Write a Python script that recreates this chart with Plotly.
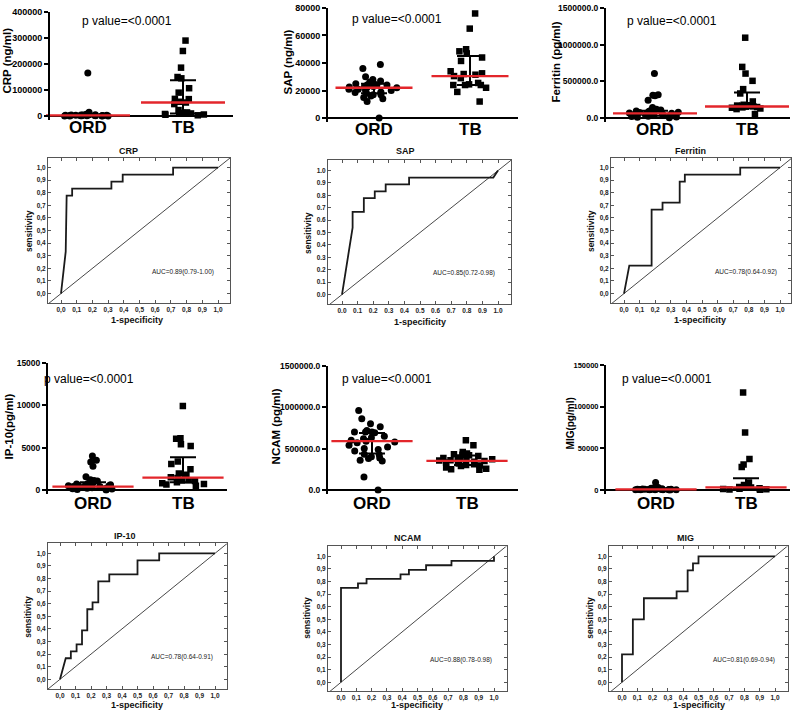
import plotly.graph_objects as go

W, H = 793, 714
FONT = "Arial, Liberation Sans, sans-serif"
RED = "#e3262b"


def fx(p):
    return p / W


def fy(p):
    return 1 - p / H


GROUPS = ["ORD", "TB"]

# ---------------- scatter data ----------------
crp_ord = [165000, 15000, 8000, 7000, 6000, 6000, 5000, 5000, 5000, 4000, 4000, 4000, 3000, 3000,
           3000, 2500, 2000, 2000, 2000, 1500, 1500, 1000, 1000, 800, 500, 500, 300, 100]
crp_tb = [290000, 250000, 186000, 150000, 145000, 107000, 90000, 66000, 65000, 55000, 52000,
          46000, 23000, 14000, 12000, 10000, 9000, 8000, 6000, 5000, 3000]
crp_median = [2500, 52000]
crp_q1 = [800, 10000]
crp_q3 = [5000, 138000]
crp_ticks = [0, 100000, 200000, 300000, 400000]
crp_ticktext = ["0", "100000", "200000", "300000", "400000"]

sap_ord = [39000, 36000, 30000, 28000, 27000, 26000, 25000, 25000, 24000, 24000, 24000, 23000,
           23000, 22500, 22000, 22000, 21000, 21000, 20000, 20000, 19000, 18500, 18000, 18000,
           17000, 17000, 16000, 15000, 14000, 12000, 0]
sap_tb = [76000, 65000, 50000, 48500, 47000, 44000, 41500, 34000, 32500, 32000, 31500, 30500,
          29000, 25500, 24500, 24000, 24000, 24000, 22000, 19000, 12000]
sap_median = [22000, 30500]
sap_q1 = [18000, 24000]
sap_q3 = [25000, 45000]
sap_ticks = [0, 20000, 40000, 60000, 80000]
sap_ticktext = ["0", "20000", "40000", "60000", "80000"]

fer_ord = [606000, 317000, 310000, 303000, 244000, 145000, 120000, 110000, 105000, 100000, 95000,
           90000, 80000, 75000, 70000, 65000, 60000, 55000, 50000, 45000, 40000, 35000, 30000,
           25000, 20000, 15000, 10000, 5000]
fer_tb = [1095000, 697000, 606000, 507000, 394000, 335000, 226000, 181000, 175000, 170000, 167000,
          160000, 155000, 150000, 145000, 140000, 130000, 122000, 54000]
fer_median = [63000, 157000]
fer_q1 = [30000, 135000]
fer_q3 = [100000, 348000]
fer_ticks = [0, 500000, 1000000, 1500000]
fer_ticktext = ["0.0", "500000.0", "1000000.0", "1500000.0"]

ip_ord = [4000, 3500, 3300, 2800, 1550, 1200, 1100, 1050, 800, 750, 700, 650, 600, 550, 500, 500,
          450, 400, 400, 350, 300, 250, 200, 200, 150, 100, 50, 0]
ip_tb = [9900, 6100, 6050, 5400, 5200, 3350, 3050, 2450, 1950, 1800, 1500, 1400, 1150, 1100, 1050,
         900, 800, 700, 650, 500]
ip_median = [390, 1450]
ip_q1 = [150, 900]
ip_q3 = [900, 3850]
ip_ticks = [0, 5000, 10000, 15000]
ip_ticktext = ["0", "5000", "10000", "15000"]

ncam_ord = [960000, 860000, 800000, 765000, 720000, 700000, 700000, 700000, 690000, 650000, 630000,
            620000, 600000, 590000, 580000, 570000, 540000, 520000, 500000, 490000, 470000, 430000,
            425000, 400000, 385000, 380000, 360000, 350000, 155000, 0]
ncam_tb = [600000, 540000, 460000, 440000, 430000, 425000, 420000, 410000, 400000, 390000, 385000,
           375000, 370000, 360000, 355000, 350000, 345000, 340000, 330000, 320000, 310000, 300000,
           295000, 290000, 270000, 255000, 250000, 245000]
ncam_median = [590000, 352000]
ncam_q1 = [440000, 300000]
ncam_q3 = [688000, 415000]
ncam_ticks = [0, 500000, 1000000, 1500000]
ncam_ticktext = ["0.0", "500000.0", "1000000.0", "1500000.0"]

mig_ord = [9000, 3000, 2500, 2000, 2000, 1800, 1500, 1500, 1200, 1200, 1000, 1000, 900, 800, 700,
           600, 500, 500, 400, 400, 300, 300, 200, 200, 100, 100, 50, 0]
mig_tb = [117000, 69000, 37000, 30500, 27500, 9000, 6000, 4000, 3500, 3000, 2800, 2500, 2000, 1500,
          1000, 800, 500, 300]
mig_median = [500, 3100]
mig_q1 = [200, 1000]
mig_q3 = [1200, 14000]
mig_ticks = [0, 50000, 100000, 150000]
mig_ticktext = ["0", "50000", "100000", "150000"]

p_text = "p value=<0.0001"

# ---------------- ROC data ----------------
crp_fpr = [0, 0.03, 0.036, 0.071, 0.071, 0.321, 0.321, 0.393, 0.393, 0.714, 0.714, 1.0]
crp_tpr = [0, 0.333, 0.778, 0.778, 0.833, 0.833, 0.889, 0.889, 0.944, 0.944, 1.0, 1.0]
crp_auc = "AUC=0.89(0.79-1.00)"

sap_fpr = [0, 0.068, 0.068, 0.14, 0.14, 0.21, 0.21, 0.28, 0.28, 0.43, 0.43, 0.955, 0.97, 1.0]
sap_tpr = [0, 0.54, 0.667, 0.667, 0.778, 0.778, 0.833, 0.833, 0.889, 0.889, 0.944, 0.944, 0.944, 1.0]
sap_auc = "AUC=0.85(0.72-0.98)"

fer_fpr = [0, 0.034, 0.177, 0.177, 0.247, 0.247, 0.357, 0.357, 0.39, 0.39, 0.745, 0.745, 1.0]
fer_tpr = [0, 0.222, 0.222, 0.667, 0.667, 0.722, 0.722, 0.889, 0.889, 0.944, 0.944, 1.0, 1.0]
fer_auc = "AUC=0.78(0.64-0.92)"

ip_fpr = [0, 0.037, 0.07, 0.07, 0.107, 0.107, 0.142, 0.142, 0.176, 0.176, 0.21, 0.21, 0.247, 0.247,
          0.318, 0.318, 0.5, 0.5, 0.64, 0.64, 1.0]
ip_tpr = [0, 0.167, 0.167, 0.222, 0.222, 0.278, 0.278, 0.389, 0.389, 0.556, 0.556, 0.611, 0.611,
          0.778, 0.778, 0.833, 0.833, 0.944, 0.944, 1.0, 1.0]
ip_auc = "AUC=0.78(0.64-0.91)"

ncam_fpr = [0, 0, 0.111, 0.111, 0.167, 0.167, 0.389, 0.389, 0.444, 0.444, 0.556, 0.556, 0.722,
            0.722, 1.0, 1.0]
ncam_tpr = [0, 0.75, 0.75, 0.786, 0.786, 0.821, 0.821, 0.857, 0.857, 0.893, 0.893, 0.929, 0.929,
            0.964, 0.964, 1.0]
ncam_auc = "AUC=0.88(0.78-0.98)"

mig_fpr = [0, 0, 0.071, 0.071, 0.143, 0.143, 0.357, 0.357, 0.429, 0.429, 0.464, 0.464, 0.5, 0.5, 1.0]
mig_tpr = [0, 0.222, 0.222, 0.5, 0.5, 0.667, 0.667, 0.722, 0.722, 0.889, 0.889, 0.944, 0.944, 1.0, 1.0]
mig_auc = "AUC=0.81(0.69-0.94)"

roc_ticks = [i / 10 for i in range(11)]
roc_ticktext_comma = ["0,0", "0,1", "0,2", "0,3", "0,4", "0,5", "0,6", "0,7", "0,8", "0,9", "1,0"]
roc_ticktext_dot = ["0.0", "0.1", "0.2", "0.3", "0.4", "0.5", "0.6", "0.7", "0.8", "0.9", "1.0"]

fig = go.Figure()
layout = {}
annotations = []


def ax_names(n):
    return ("x" if n == 1 else f"x{n}"), ("y" if n == 1 else f"y{n}")


def add_scatter_panel(n, ord_vals, tb_vals, med, q1, q3, ticks, ticktext, ylabel, g):
    xs, ys = ax_names(n)
    unit = g["tb"] - g["ord"]
    xr = [(g["left"] - g["ord"]) / unit, (g["right"] - g["ord"]) / unit]
    ppu = (g["zero"] - g["top"]) / ticks[-1]
    pad = 4
    yr = [-pad / ppu, ticks[-1]]
    for k, (vals, sym, size) in enumerate([(ord_vals, "circle", 7), (tb_vals, "square", 6.5)]):
        fig.add_trace(go.Box(
            x=[k] * len(vals), y=vals, xaxis=xs, yaxis=ys,
            boxpoints="all", jitter=1, pointpos=0, width=0.6,
            fillcolor="rgba(0,0,0,0)", line=dict(color="rgba(0,0,0,0)", width=0),
            marker=dict(symbol=sym, size=size, color="black"),
            showlegend=False, hoveron="points"))
    fig.add_trace(go.Scatter(
        x=[0, 1], y=med, xaxis=xs, yaxis=ys, mode="markers", showlegend=False,
        cliponaxis=False,
        marker=dict(symbol="line-ew", size=g["medw"], color=RED, line=dict(color=RED, width=2.3)),
        error_y=dict(type="data", symmetric=False,
                     array=[b - m for b, m in zip(q3, med)],
                     arrayminus=[m - a for m, a in zip(med, q1)],
                     color="black", thickness=2, width=13)))
    layout[f"xaxis{n}"] = dict(
        domain=[fx(g["left"]), fx(g["right"])], range=xr, anchor=ys,
        showticklabels=False, ticks="", showline=False, zeroline=False, showgrid=False)
    layout[f"yaxis{n}"] = dict(
        domain=[fy(g["zero"] + pad), fy(g["top"])], range=yr, anchor=xs,
        tickvals=ticks, ticktext=ticktext, ticks="outside", ticklen=4, tickwidth=1.5,
        tickcolor="black", showline=True, linewidth=2, linecolor="black",
        zeroline=True, zerolinecolor="black", zerolinewidth=2, showgrid=False,
        tickfont=dict(family=FONT, size=g["tsize"], color="black", weight="bold"))
    for k, name in enumerate(GROUPS):
        annotations.append(dict(
            text=name, xref=xs, yref="paper", x=k, y=fy(g["zero"] + g["gdy"]),
            showarrow=False, xanchor="center", yanchor="middle",
            font=dict(family=FONT, size=17, color="black", weight="bold")))
    annotations.append(dict(
        text=ylabel, xref="paper", yref="paper", x=fx(g["lx"]), y=fy(g["ly"]),
        textangle=-90, showarrow=False, xanchor="center", yanchor="middle",
        font=dict(family=FONT, size=g["lsize"], color="black", weight="bold")))
    annotations.append(dict(
        text=p_text, xref="paper", yref="paper", x=fx(g["px"]), y=fy(g["py"]),
        showarrow=False, xanchor="left", yanchor="middle",
        font=dict(family=FONT, size=12, color="black")))


def add_roc_panel(n, fpr, tpr, title, auc, ticktext, g):
    xs, ys = ax_names(n)
    ux = g["x1"] - g["x0"]
    uy = g["y0"] - g["y1"]
    xr = [(g["left"] - g["x0"]) / ux, (g["right"] - g["x0"]) / ux]
    yr = [(g["y0"] - g["bottom"]) / uy, (g["y0"] - g["top"]) / uy]
    fig.add_trace(go.Scatter(
        x=[-0.5, 1.5], y=[-0.5, 1.5], xaxis=xs, yaxis=ys, mode="lines", showlegend=False,
        line=dict(color="#333333", width=0.9)))
    fig.add_trace(go.Scatter(
        x=fpr, y=tpr, xaxis=xs, yaxis=ys, mode="lines", showlegend=False,
        line=dict(color="#1a1a1a", width=1.8)))
    common = dict(
        tickvals=roc_ticks, ticktext=ticktext, ticks="inside", ticklen=3, tickwidth=1,
        tickcolor="#555555", showline=True, linewidth=1, linecolor="#555555", mirror="ticks",
        zeroline=False, showgrid=False,
        tickfont=dict(family=FONT, size=6.5, color="#222222", weight="bold"))
    layout[f"xaxis{n}"] = dict(domain=[fx(g["left"]), fx(g["right"])], range=xr, anchor=ys, **common)
    layout[f"yaxis{n}"] = dict(domain=[fy(g["bottom"]), fy(g["top"])], range=yr, anchor=xs, **common)
    annotations.append(dict(
        text=title, xref="paper", yref="paper", x=fx(g["tx"]), y=fy(g["ty"]), showarrow=False,
        xanchor="center", yanchor="middle",
        font=dict(family=FONT, size=9, color="#111111", weight="bold")))
    annotations.append(dict(
        text="sensitivity", xref="paper", yref="paper", x=fx(g["sx"]), y=fy(g["sy"]),
        textangle=-90, showarrow=False, xanchor="center", yanchor="middle",
        font=dict(family=FONT, size=8.5, color="#111111", weight="bold")))
    annotations.append(dict(
        text="1-specificity", xref="paper", yref="paper", x=fx(g["cx"]), y=fy(g["cy"]),
        showarrow=False, xanchor="center", yanchor="middle",
        font=dict(family=FONT, size=9, color="#111111", weight="bold")))
    annotations.append(dict(
        text=auc, xref=xs, yref=ys, x=g["ax"], y=g["ay"], showarrow=False,
        xanchor="center", yanchor="middle",
        font=dict(family=FONT, size=6.5, color="#222222")))


add_scatter_panel(1, crp_ord, crp_tb, crp_median, crp_q1, crp_q3, crp_ticks, crp_ticktext,
                  "CRP (ng/ml)",
                  dict(left=50, right=233, top=7, zero=112, ord=88, tb=183, medw=60, tsize=9,
                       gdy=12, lx=7, ly=56, lsize=11.5, px=80, py=16))
add_scatter_panel(2, sap_ord, sap_tb, sap_median, sap_q1, sap_q3, sap_ticks, sap_ticktext,
                  "SAP (ng/ml)",
                  dict(left=328, right=518, top=3, zero=114, ord=374, tb=470, medw=55, tsize=9,
                       gdy=12, lx=288, ly=58, lsize=11.5, px=350, py=14))
add_scatter_panel(3, fer_ord, fer_tb, fer_median, fer_q1, fer_q3, fer_ticks, fer_ticktext,
                  "Ferritin (pg/ml)",
                  dict(left=606, right=790, top=3, zero=114, ord=655, tb=747, medw=60, tsize=8.5,
                       gdy=12, lx=556, ly=58, lsize=11.5, px=625, py=16))
add_scatter_panel(4, ip_ord, ip_tb, ip_median, ip_q1, ip_q3, ip_ticks, ip_ticktext,
                  "IP-10(pg/ml)",
                  dict(left=48, right=227, top=361, zero=489, ord=93, tb=183, medw=58, tsize=8.5,
                       gdy=14, lx=9, ly=425, lsize=11.5, px=42, py=377))
add_scatter_panel(5, ncam_ord, ncam_tb, ncam_median, ncam_q1, ncam_q3, ncam_ticks, ncam_ticktext,
                  "NCAM (pg/ml)",
                  dict(left=328, right=518, top=364, zero=489, ord=372, tb=467, medw=58, tsize=8.5,
                       gdy=14, lx=276, ly=425, lsize=11.5, px=340, py=377))
add_scatter_panel(6, mig_ord, mig_tb, mig_median, mig_q1, mig_q3, mig_ticks, mig_ticktext,
                  "MIG(pg/ml)",
                  dict(left=606, right=790, top=363, zero=489, ord=656, tb=746, medw=58, tsize=7.5,
                       gdy=14, lx=570, ly=422, lsize=10, px=620, py=377))

add_roc_panel(7, crp_fpr, crp_tpr, "CRP", crp_auc, roc_ticktext_comma,
              dict(left=48, right=230, top=154, bottom=301, x0=61, x1=218, y0=291, y1=164,
                   tx=128, ty=147, sx=29, sy=228, cx=137, cy=318, ax=0.78, ay=0.17))
add_roc_panel(8, sap_fpr, sap_tpr, "SAP", sap_auc, roc_ticktext_dot,
              dict(left=328, right=511, top=156, bottom=302, x0=342, x1=498, y0=292, y1=167,
                   tx=405, ty=147, sx=308, sy=230, cx=420, cy=320, ax=0.78, ay=0.17))
add_roc_panel(9, fer_fpr, fer_tpr, "Ferritin", fer_auc, roc_ticktext_comma,
              dict(left=611, right=791, top=154, bottom=301, x0=624, x1=780, y0=291, y1=164,
                   tx=690, ty=147, sx=591, sy=228, cx=700, cy=318, ax=0.78, ay=0.17))
add_roc_panel(10, ip_fpr, ip_tpr, "IP-10", ip_auc, roc_ticktext_comma,
              dict(left=48, right=227, top=543, bottom=690, x0=60, x1=215, y0=680, y1=553,
                   tx=125, ty=536, sx=28, sy=617, cx=137, cy=706, ax=0.785, ay=0.176))
add_roc_panel(11, ncam_fpr, ncam_tpr, "NCAM", ncam_auc, roc_ticktext_comma,
              dict(left=328, right=507, top=546, bottom=692, x0=341, x1=494, y0=683, y1=556,
                   tx=407, ty=538, sx=307, sy=618, cx=417, cy=706, ax=0.787, ay=0.18))
add_roc_panel(12, mig_fpr, mig_tpr, "MIG", mig_auc, roc_ticktext_comma,
              dict(left=609, right=788, top=546, bottom=692, x0=622, x1=775, y0=683, y1=556,
                   tx=685, ty=538, sx=590, sy=618, cx=699, cy=706, ax=0.80, ay=0.18))

layout["xaxis"] = layout.pop("xaxis1")
layout["yaxis"] = layout.pop("yaxis1")

fig.update_layout(
    width=W, height=H, margin=dict(l=0, r=0, t=0, b=0, pad=0),
    paper_bgcolor="white", plot_bgcolor="white", boxmode="overlay",
    font=dict(family=FONT, color="black"), annotations=annotations, **layout)

fig.write_html(
    "out.html",
    config={"displayModeBar": False},
    post_script="document.body.style.margin='0';document.body.style.padding='0';"
                "document.documentElement.style.overflow='hidden';")
